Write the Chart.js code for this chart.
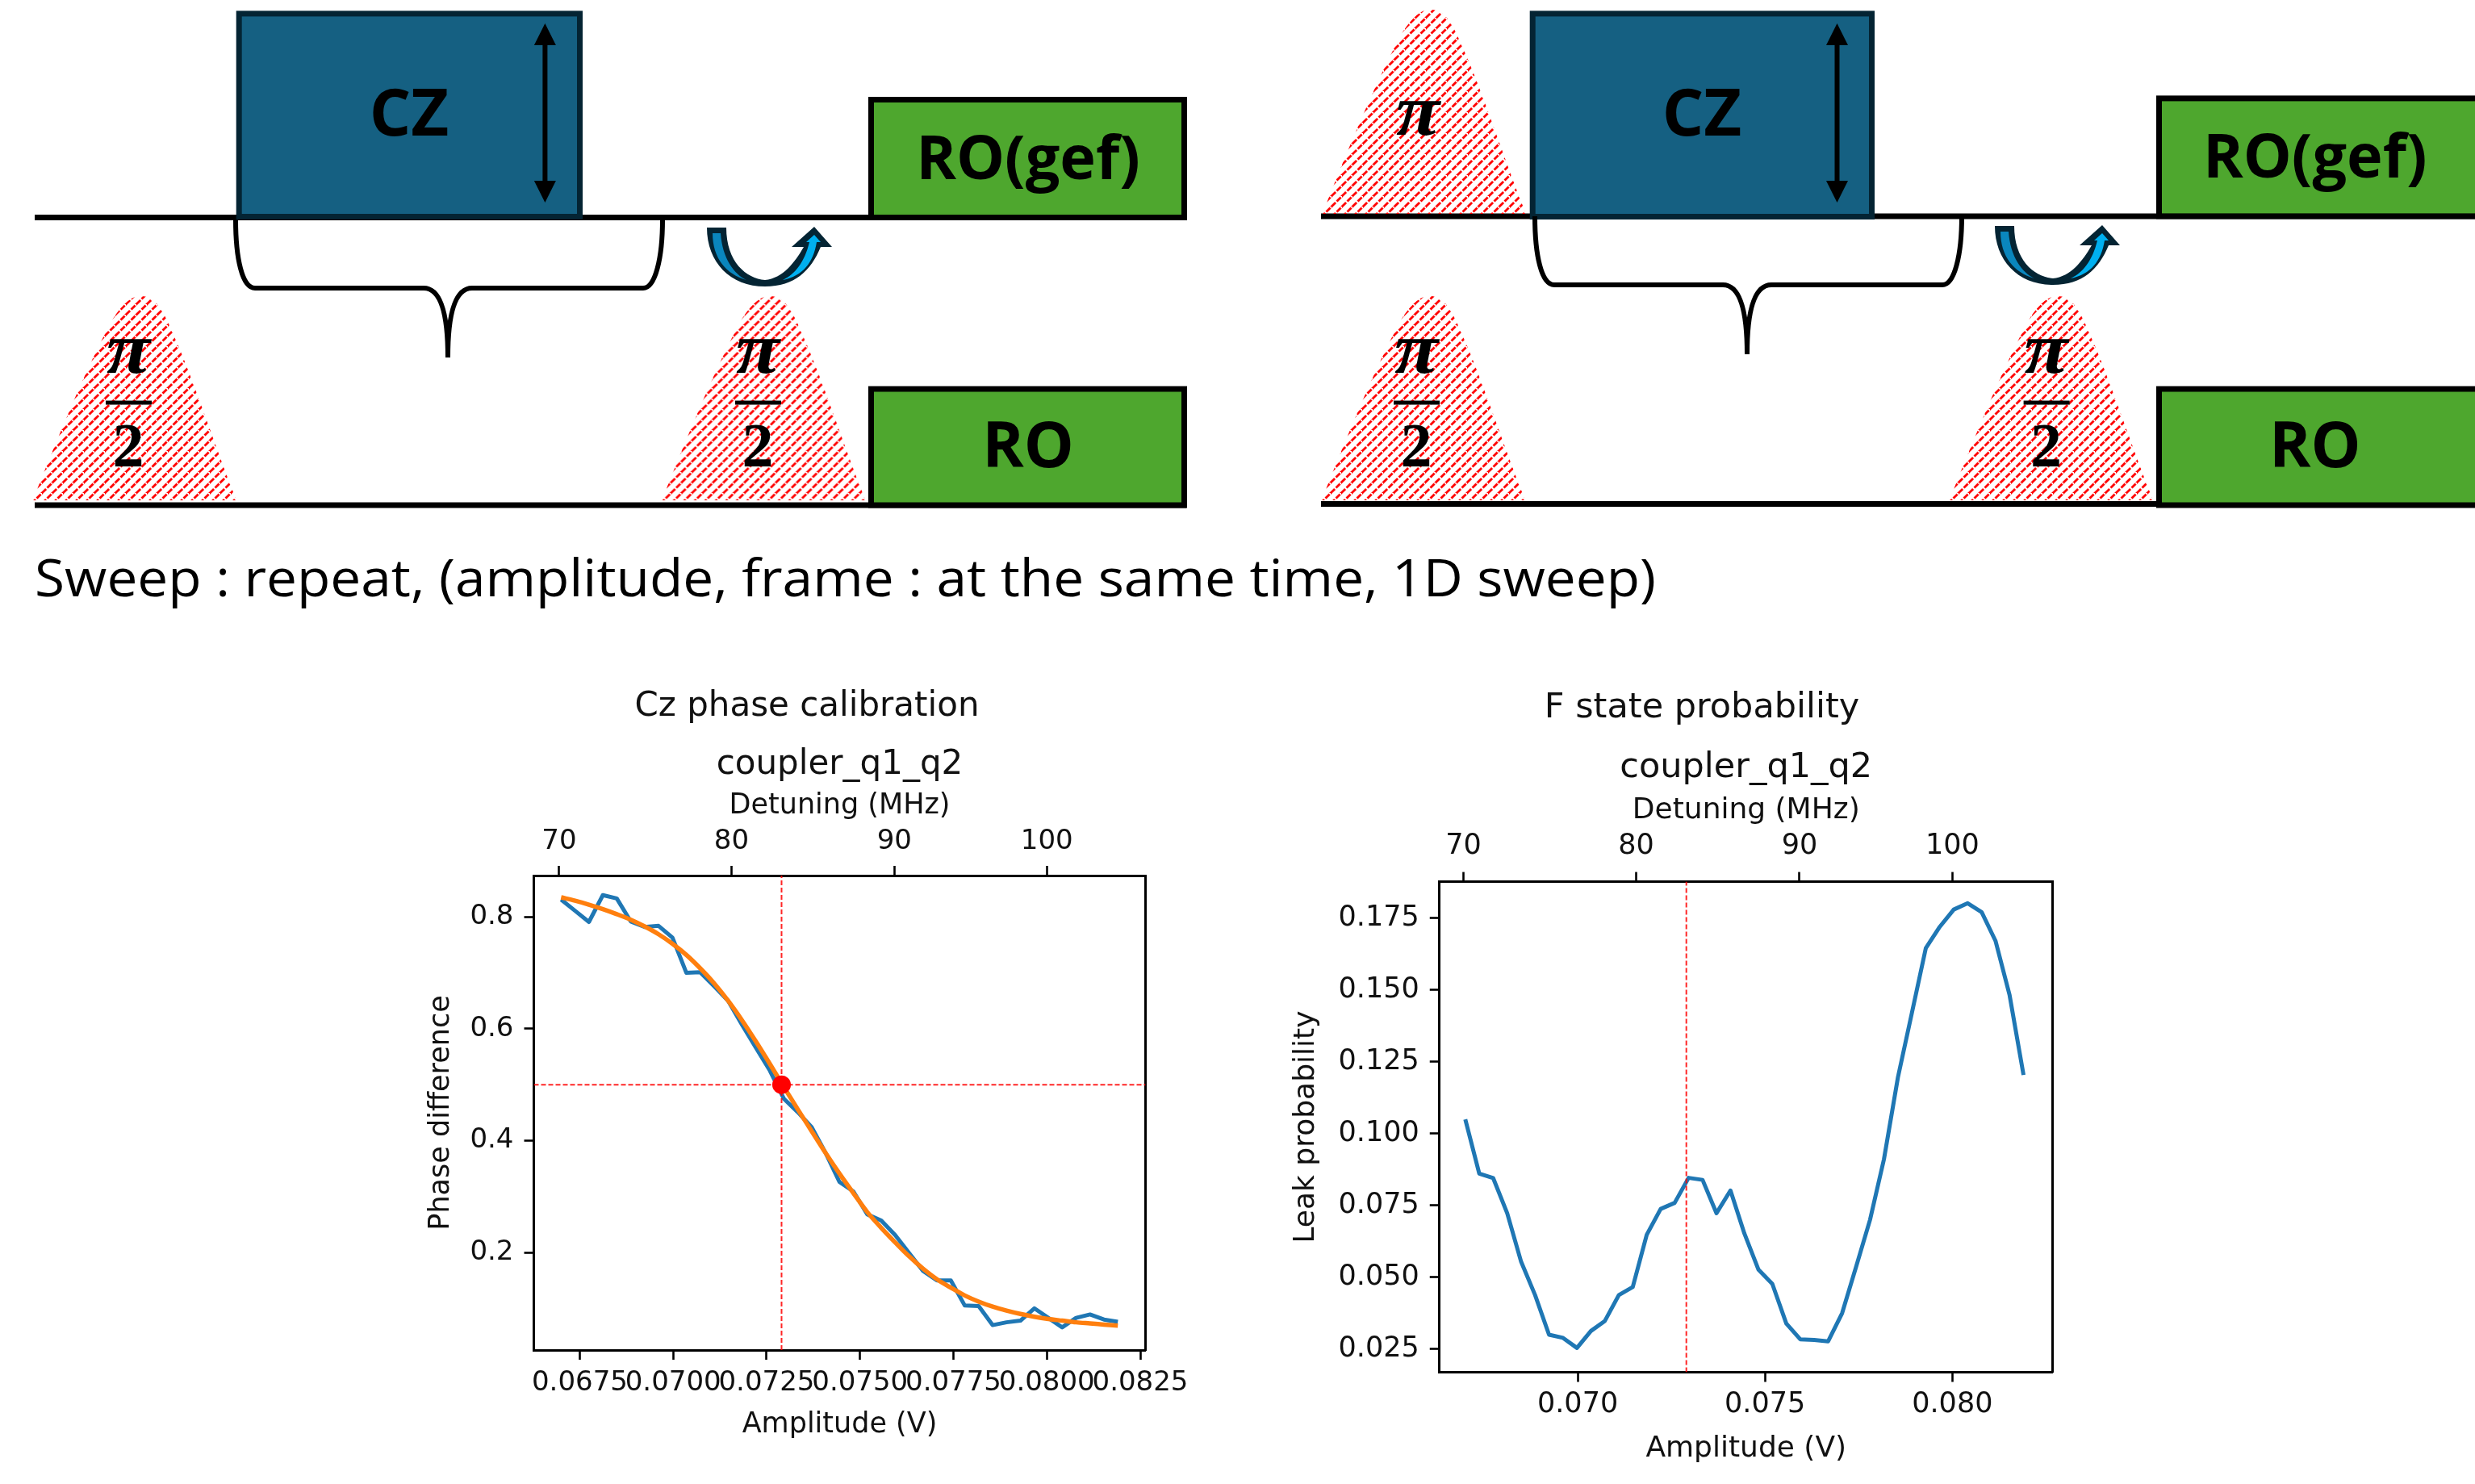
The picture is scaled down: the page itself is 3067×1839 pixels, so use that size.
<!DOCTYPE html>
<html>
<head>
<meta charset="utf-8">
<title>CZ calibration</title>
<script src="https://cdn.jsdelivr.net/npm/chart.js@4"></script>
<style>
  html, body { margin: 0; padding: 0; background: #fff; width: 3067px; height: 1839px; overflow: hidden; }
  svg { position: absolute; left: 0; top: 0; }
  canvas { position: absolute; filter: blur(0.6px); }
  #phaseChart { left: 500px; top: 840px; }
  #leakChart { left: 1560px; top: 840px; }
  .bold { font-family: "Open Sans", sans-serif; font-weight: 700; fill: #000; text-anchor: middle; }
  .math { font-family: "Liberation Serif", serif; font-weight: 700; fill: #000; text-anchor: middle; }
</style>
</head>
<body>

<svg width="3067" height="839" viewBox="0 0 3067 839">
  <defs>
    <pattern id="hatch" patternUnits="userSpaceOnUse" width="13" height="13">
      <path d="M-3,3 L3,-3 M0,13 L13,0 M10,16 L16,10" stroke="#ff0000" stroke-width="2.8" stroke-dasharray="7.2 2"/>
    </pattern>
    <path id="gauss" d="M40.7,620 C80,520 115,440 140,395 C155,372 165,367 175,367 C190,367 200,378 215,415 C240,470 265,550 293,620 Z" fill="url(#hatch)"/>
    <path id="brace" d="M292,272 C292,320 300,357 316,357 L525,357 C545,357 555,385 555,443 C555,385 565,357 585,357 L797,357 C812,357 821,320 821,272" fill="none" stroke="#000" stroke-width="6"/>
    <g id="uarrow">
      <path d="M876,282 C876,325 905,355 948,355 C985,355 1005,335 1017,306 L1031,306 L1009,281 L981,306 L996,306 C985,325 970,345 948,347 C925,345 900,325 900,282 Z" fill="#042433"/>
      <path d="M883,289 L893,289 C895,320 910,340 925,347 C900,340 883,320 883,289 Z" fill="#0a86bd"/>
      <path d="M970,347 C985,340 997,325 1003,300 L999,300 L1009,291 L1017,300 L1012,300 C1008,325 995,342 970,347 Z" fill="#00b0f0"/>
    </g>
    <g id="amparrow" fill="#000">
      <rect x="-3" y="50" width="6" height="180"/>
      <path d="M0,29 L13.5,56 L-13.5,56 Z M0,251 L13.5,224 L-13.5,224 Z"/>
    </g>
    <g id="pihalf">
      <text class="math" x="0" y="462" font-size="92" font-style="italic" textLength="54" lengthAdjust="spacingAndGlyphs">π</text>
      <rect x="-28" y="496.5" width="57" height="5"/>
      <text class="math" x="0" y="578" font-size="78">2</text>
    </g>
  </defs>

  <!-- left sequence -->
  <rect x="43" y="266" width="1427" height="7" fill="#000"/>
  <rect x="43" y="622.5" width="1427" height="7" fill="#000"/>
  <use href="#gauss"/>
  <use href="#gauss" x="779.5"/>
  <use href="#pihalf" x="159"/>
  <use href="#pihalf" x="939"/>
  <rect x="296.2" y="16.9" width="422.3" height="251.6" fill="#156082" stroke="#042433" stroke-width="7"/>
  <use href="#amparrow" x="675.4"/>
  <text class="bold" x="507" y="168" font-size="81">CZ</text>
  <rect x="1079.5" y="123.5" width="388" height="146" fill="#4ea72e" stroke="#000" stroke-width="7"/>
  <text class="bold" x="1274" y="222" font-size="75.5">RO(gef)</text>
  <rect x="1079.5" y="482" width="388" height="144" fill="#4ea72e" stroke="#000" stroke-width="7"/>
  <text class="bold" x="1274" y="579" font-size="78">RO</text>
  <use href="#brace"/>
  <use href="#uarrow"/>

  <!-- right sequence -->
  <rect x="1637" y="264.5" width="1430" height="7" fill="#000"/>
  <rect x="1637" y="621" width="1040" height="7" fill="#000"/>
  <use href="#gauss" x="1598" y="-355"/>
  <use href="#gauss" x="1597"/>
  <use href="#gauss" x="2375"/>
  <text class="math" x="1757" y="167" font-size="92" font-style="italic" textLength="54" lengthAdjust="spacingAndGlyphs">π</text>
  <use href="#pihalf" x="1755"/>
  <use href="#pihalf" x="2535.6"/>
  <rect x="1899.2" y="16.9" width="420.3" height="251.6" fill="#156082" stroke="#042433" stroke-width="7"/>
  <use href="#amparrow" x="2276.5"/>
  <text class="bold" x="2109" y="168" font-size="81">CZ</text>
  <rect x="2675.5" y="121.9" width="395" height="146" fill="#4ea72e" stroke="#000" stroke-width="7"/>
  <text class="bold" x="2868.7" y="220" font-size="75.5">RO(gef)</text>
  <rect x="2675.5" y="482" width="395" height="144" fill="#4ea72e" stroke="#000" stroke-width="7"/>
  <text class="bold" x="2868.7" y="579" font-size="78">RO</text>
  <use href="#brace" x="1610" y="-4"/>
  <use href="#uarrow" x="1596" y="-2"/>

  <text x="43" y="739" font-family="'Open Sans', sans-serif" font-size="64" fill="#000" textLength="2009" lengthAdjust="spacingAndGlyphs">Sweep : repeat, (amplitude, frame : at the same time, 1D sweep)</text>
</svg>

<canvas id="phaseChart" width="1000" height="960"></canvas>
<canvas id="leakChart" width="1098" height="999"></canvas>

<script>
// amplitude sweep (V), same 41 points in both panels
var amps = [0.067, 0.067373, 0.067745, 0.068118, 0.06849, 0.068863, 0.069235, 0.069608, 0.06998, 0.070353,
            0.070725, 0.071098, 0.07147, 0.071843, 0.072215, 0.072588, 0.07296, 0.073333, 0.073705, 0.074078,
            0.07445, 0.074823, 0.075195, 0.075568, 0.07594, 0.076313, 0.076685, 0.077058, 0.07743, 0.077803,
            0.078175, 0.078548, 0.07892, 0.079293, 0.079665, 0.080038, 0.08041, 0.080783, 0.081155, 0.081528, 0.0819];

var phaseMeasured = [0.831, 0.811, 0.791, 0.839, 0.833, 0.792, 0.782, 0.784, 0.763, 0.700,
                     0.701, 0.676, 0.650, 0.607, 0.566, 0.525, 0.475, 0.451, 0.424, 0.378,
                     0.326, 0.309, 0.268, 0.257, 0.231, 0.199, 0.167, 0.150, 0.150, 0.105,
                     0.104, 0.070, 0.075, 0.078, 0.100, 0.083, 0.066, 0.083, 0.089, 0.080, 0.076];

var phaseFit = [0.835, 0.829, 0.822, 0.814, 0.805, 0.795, 0.783, 0.769, 0.752, 0.732,
                0.708, 0.681, 0.650, 0.615, 0.577, 0.537, 0.496, 0.456, 0.417, 0.378,
                0.341, 0.306, 0.272, 0.244, 0.218, 0.193, 0.171, 0.152, 0.137, 0.123,
                0.112, 0.103, 0.096, 0.090, 0.085, 0.081, 0.078, 0.075, 0.073, 0.071, 0.069];

var leakProb = [0.105, 0.0861, 0.0845, 0.0723, 0.0554, 0.0438, 0.0300, 0.0289, 0.0254, 0.0313,
                0.0348, 0.0438, 0.0466, 0.0648, 0.0738, 0.0759, 0.0846, 0.0839, 0.0723, 0.0802,
                0.0652, 0.0527, 0.0477, 0.0339, 0.0284, 0.0282, 0.0277, 0.0375, 0.0536, 0.0700,
                0.0911, 0.1196, 0.1420, 0.1646, 0.1720, 0.1780, 0.1802, 0.1771, 0.1670, 0.1482, 0.1204];

var markerAmp = 0.0729;
var markerPhase = 0.5;

var phaseXTicks = [0.0675, 0.07, 0.0725, 0.075, 0.0775, 0.08, 0.0825];
var phaseYTicks = [0.2, 0.4, 0.6, 0.8];
var leakXTicks = [0.07, 0.075, 0.08];
var leakYTicks = [0.025, 0.05, 0.075, 0.1, 0.125, 0.15, 0.175];

// top axis is not linear in amplitude, these are the amplitudes under each detuning tick
var detuningLabels = ['70', '80', '90', '100'];
var detuningAmps = [0.06695, 0.07156, 0.07592, 0.08];

var BLUE = '#1f77b4', ORANGE = '#ff7f0e', RED = 'rgba(255,0,0,0.85)', INK = '#111';
var FONT = "'DejaVu Sans', sans-serif";

function pairs(xs, ys) {
  return xs.map(function (x, i) { return { x: x, y: ys[i] }; });
}

function line(data, color, width) {
  return { data: data, borderColor: color, borderWidth: width, pointRadius: 0, tension: 0, fill: false, borderJoinStyle: 'round' };
}

function crossLine(data) {
  var d = line(data, RED, 2);
  d.borderDash = [6, 3];
  return d;
}

function fixedTicks(values) {
  return function (scale) {
    scale.ticks = values.map(function (v) { return { value: v }; });
  };
}

function fixedSize(prop, size) {
  return function (scale) { scale[prop] = size; };
}

function tickOpts(fontSize, pad, cb) {
  return { color: INK, font: { family: FONT, size: fontSize }, padding: pad, autoSkip: false, maxRotation: 0, minRotation: 0, callback: cb };
}

var gridOpts = { drawOnChartArea: false, drawTicks: true, tickLength: 12, tickWidth: 2.6, tickColor: '#000', color: '#000' };
var borderOpts = { display: true, color: '#000', width: 3 };

function makeChart(id, cfg) {
  return new Chart(document.getElementById(id), {
    type: 'line',
    data: { datasets: cfg.datasets },
    options: {
      responsive: false,
      devicePixelRatio: 1,
      animation: false,
      layout: { padding: 0 },
      plugins: {
        legend: { display: false },
        tooltip: { enabled: false },
        title: { display: true, text: cfg.title, color: INK, font: { family: FONT, size: cfg.titleSize, weight: 'normal', lineHeight: 1.2 }, padding: { top: cfg.titleTop, bottom: cfg.titleBottom } },
        subtitle: { display: true, fullSize: false, text: 'coupler_q1_q2', color: INK, font: { family: FONT, size: cfg.titleSize, weight: 'normal', lineHeight: 1.2 }, padding: 0 }
      },
      scales: {
        x: {
          type: 'linear', position: 'bottom', min: cfg.xMin, max: cfg.xMax,
          afterBuildTicks: fixedTicks(cfg.xTicks),
          afterFit: fixedSize('height', cfg.bottomH),
          ticks: tickOpts(cfg.tickSize, cfg.bottomPad, function (v) { return v.toFixed(cfg.xDigits); }),
          grid: gridOpts, border: borderOpts,
          // bottom axis measures its title from the lower edge
          title: { display: true, text: 'Amplitude (V)', color: INK, font: { family: FONT, size: cfg.labelSize, lineHeight: 1.2 }, padding: { top: 0, bottom: cfg.amplitudePad } }
        },
        xTop: {
          type: 'linear', axis: 'x', position: 'top', min: cfg.xMin, max: cfg.xMax,
          afterBuildTicks: fixedTicks(detuningAmps),
          afterFit: fixedSize('height', cfg.topH),
          ticks: tickOpts(cfg.tickSize, cfg.topPad, function (v, i) { return detuningLabels[i]; }),
          grid: gridOpts, border: borderOpts,
          title: { display: true, text: 'Detuning (MHz)', color: INK, font: { family: FONT, size: cfg.labelSize, lineHeight: 1.2 }, padding: { top: cfg.detuningPad, bottom: 0 } }
        },
        y: {
          type: 'linear', position: 'left', min: cfg.yMin, max: cfg.yMax,
          afterBuildTicks: fixedTicks(cfg.yTicks),
          afterFit: fixedSize('width', cfg.leftW),
          ticks: tickOpts(cfg.tickSize, cfg.leftPad, function (v) { return v.toFixed(cfg.yDigits); }),
          grid: gridOpts, border: borderOpts,
          title: { display: true, text: cfg.yLabel, color: INK, font: { family: FONT, size: cfg.labelSize, lineHeight: 1.2 }, padding: { top: cfg.yLabelPad, bottom: 0 } }
        },
        yRight: {
          type: 'linear', axis: 'y', position: 'right', min: cfg.yMin, max: cfg.yMax,
          afterFit: fixedSize('width', cfg.rightW),
          ticks: { display: false },
          grid: { display: false }, border: borderOpts
        }
      }
    }
  });
}

// first dataset ends up on top
var phaseMarker = line([{ x: markerAmp, y: markerPhase }], 'red', 0);
phaseMarker.pointRadius = 11.5;
phaseMarker.pointBackgroundColor = 'red';
phaseMarker.pointBorderWidth = 0;
var phaseFitLine = line(pairs(amps, phaseFit), ORANGE, 5.5);
phaseFitLine.cubicInterpolationMode = 'monotone';

var PHASE_Y = [0.0254, 0.874];
var LEAK_Y = [0.01694, 0.1877];

makeChart('phaseChart', {
  title: 'Cz phase calibration', titleSize: 42, titleTop: 11.3, titleBottom: 21.4,
  labelSize: 35, tickSize: 34, xMin: 0.06627, xMax: 0.08264, yMin: PHASE_Y[0], yMax: PHASE_Y[1],
  xTicks: phaseXTicks, yTicks: phaseYTicks, xDigits: 4, yDigits: 1, yLabel: 'Phase difference',
  bottomH: 127, topH: 111.5, leftW: 161.5, rightW: 80.5,
  bottomPad: 9, topPad: 9, leftPad: 13, amplitudePad: 13, detuningPad: 4.8, yLabelPad: 26,
  datasets: [
    phaseMarker,
    crossLine([{ x: markerAmp, y: PHASE_Y[0] }, { x: markerAmp, y: PHASE_Y[1] }]),
    crossLine([{ x: 0.06627, y: markerPhase }, { x: 0.08264, y: markerPhase }]),
    phaseFitLine,
    line(pairs(amps, phaseMeasured), BLUE, 5)
  ]
});

makeChart('leakChart', {
  title: 'F state probability', titleSize: 43, titleTop: 12.3, titleBottom: 21.8,
  labelSize: 36, tickSize: 35, xMin: 0.06631, xMax: 0.08268, yMin: LEAK_Y[0], yMax: LEAK_Y[1],
  xTicks: leakXTicks, yTicks: leakYTicks, xDigits: 3, yDigits: 3, yLabel: 'Leak probability',
  bottomH: 138.5, topH: 115.3, leftW: 223.75, rightW: 114.25,
  bottomPad: 7, topPad: 11, leftPad: 13, amplitudePad: 21.4, detuningPad: 5.4, yLabelPad: 37,
  datasets: [
    crossLine([{ x: markerAmp, y: LEAK_Y[0] }, { x: markerAmp, y: LEAK_Y[1] }]),
    line(pairs(amps, leakProb), BLUE, 5)
  ]
});
</script>
</body>
</html>
